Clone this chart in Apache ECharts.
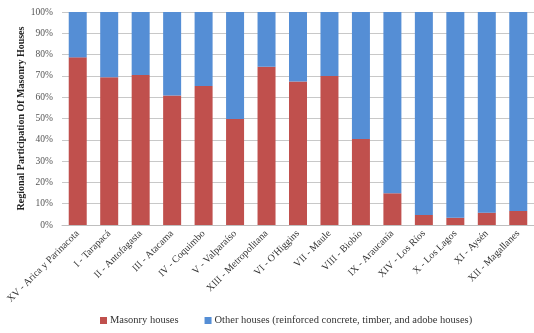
<!DOCTYPE html>
<html><head><meta charset="utf-8">
<script src="https://cdn.jsdelivr.net/npm/echarts@6/dist/echarts.min.js"></script>
<style>html,body{margin:0;padding:0;background:#fff}#c{width:534px;height:333px}</style>
</head><body><div id="c"></div>
<script>
const categories = ["XV - Arica y Parinacota","I - Tarapacá","II - Antofagasta","III - Atacama","IV - Coquimbo","V - Valparaíso","XIII - Metropolitana","VI - O'Higgins","VII - Maule","VIII - Biobío","IX - Araucanía","XIV - Los Ríos","X - Los Lagos","XI - Aysén","XII - Magallanes"];
const masonry = [78.7, 69.4, 70.4, 60.8, 65.2, 49.8, 74.3, 67.4, 69.9, 40.4, 14.9, 4.7, 3.4, 5.8, 6.6];
const other = masonry.map(v => +(100 - v).toFixed(1));
const seriesNames = ["Masonry houses", "Other houses (reinforced concrete, timber, and adobe houses)"];
const font = "Liberation Serif";
const chart = echarts.init(document.getElementById('c'));
chart.setOption({
  animation: false,
  grid: {left: 62, top: 12, width: 478, height: 213, containLabel: false},
  legend: {
    top: 310, left: 95, itemWidth: 7, itemHeight: 7, itemGap: 26,
    icon: 'rect',
    textStyle: {fontFamily: font, fontSize: 10.5, color: '#333', padding: [0, 0, 0, -2]},
    data: seriesNames
  },
  xAxis: {
    type: 'category', data: categories,
    axisTick: {show: false},
    axisLine: {lineStyle: {color: '#bfbfbf'}},
    axisLabel: {rotate: 45, interval: 0, fontFamily: font, fontSize: 10, color: '#333', margin: 7}
  },
  yAxis: {
    type: 'value', min: 0, max: 100, interval: 10,
    name: 'Regional Participation Of Masonry Houses',
    nameLocation: 'middle', nameGap: 36, nameMoveOverlap: false,
    nameTextStyle: {fontFamily: font, fontSize: 10, fontWeight: 'bold', color: '#222'},
    axisLabel: {formatter: '{value}%', fontFamily: font, fontSize: 9.5, color: '#555', margin: 9},
    axisLine: {show: false}, axisTick: {show: false},
    splitLine: {lineStyle: {color: '#c8c8c8'}}
  },
  series: [
    {name: seriesNames[0], type: 'bar', stack: 's', data: masonry, barWidth: 18, itemStyle: {color: '#c0504d'}},
    {name: seriesNames[1], type: 'bar', stack: 's', data: other, barWidth: 18, itemStyle: {color: '#558ed5'}}
  ]
});
</script></body></html>
